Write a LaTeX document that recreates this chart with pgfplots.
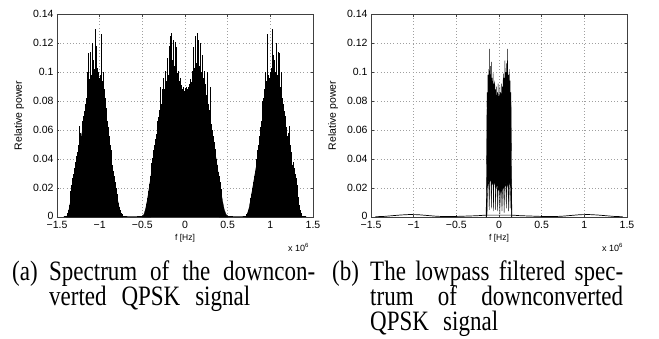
\documentclass[border=0pt]{standalone}
\usepackage{fontspec}
\setmainfont{Liberation Serif}
\setsansfont{Liberation Sans}
\usepackage{graphicx}
\usepackage{pgfplots}
\pgfplotsset{compat=1.18}

\pgfplotsset{
 specax/.style={
  scale only axis, width=256pt, height=203pt,
  xmin=-1.5, xmax=1.5, ymin=0, ymax=0.14,
  xtick={-1.5,-1,-0.5,0,0.5,1,1.5},
  xticklabels={−1.5,−1,−0.5,0,0.5,1,1.5},
  ytick={0,0.02,0.04,0.06,0.08,0.1,0.12,0.14},
  yticklabels={\raisebox{2pt}{0},0.02,0.04,0.06,0.08,0.1,0.12,0.14},
  grid=major,
  major grid style={draw=gray!75, line width=0.45pt, dash pattern=on 0.6pt off 2.6pt},
  tick label style={font=\sffamily\fontsize{10.5}{12}\selectfont, text=black},
  xticklabel style={yshift=-0.5pt},
  xlabel={f [Hz]}, ylabel={Relative power},
  every axis x label/.style={at={(axis description cs:0.5,-0.105)}, anchor=center, font=\sffamily\fontsize{8.5}{10}\selectfont},
  every axis y label/.style={at={(axis description cs:-0.148,0.5)}, rotate=90, anchor=center, font=\sffamily\fontsize{10.5}{12}\selectfont},
  axis line style={black!75, line width=0.5pt},
  tick style={black!75, line width=0.4pt},
  major tick length=2.5pt,
 }
}
\newcommand{\capfont}{\fontsize{23}{27}\selectfont}
\newcommand{\captxt}[1]{\scalebox{1}[1.22]{\capfont #1}}

\begin{document}
\begin{tikzpicture}
\useasboundingbox (0pt,0pt) rectangle (659pt,-338pt);

% ---------------- (a) ----------------
\begin{axis}[specax, at={(57pt,-217pt)}, anchor=south west]
% spikes, left lobe
\addplot[ycomb, black, line width=0.45pt, mark=none] coordinates {
(-1.38,0.003) (-1.37,0.005) (-1.36,0.008) (-1.35,0.014) (-1.34,0.018) (-1.33,0.022) (-1.32,0.027) (-1.31,0.03)
(-1.30,0.034) (-1.29,0.038) (-1.28,0.036) (-1.27,0.042) (-1.26,0.045) (-1.25,0.05) (-1.24,0.063) (-1.23,0.058)
(-1.22,0.056) (-1.21,0.062) (-1.20,0.066) (-1.19,0.07) (-1.18,0.073) (-1.17,0.078) (-1.16,0.082) (-1.15,0.1)
(-1.14,0.09) (-1.13,0.113) (-1.12,0.095) (-1.11,0.114) (-1.10,0.098) (-1.09,0.12) (-1.08,0.1) (-1.07,0.108)
(-1.06,0.102) (-1.05,0.13) (-1.04,0.118) (-1.03,0.103) (-1.02,0.1) (-1.01,0.096) (-1.00,0.092) (-0.99,0.098)
(-0.98,0.126) (-0.97,0.094) (-0.96,0.1) (-0.95,0.088) (-0.94,0.082) (-0.93,0.08) (-0.92,0.075) (-0.91,0.066)
(-0.90,0.062) (-0.89,0.056) (-0.88,0.05) (-0.87,0.046) (-0.86,0.04) (-0.85,0.036) (-0.84,0.032) (-0.83,0.028)
(-0.82,0.024) (-0.81,0.02) (-0.80,0.016) (-0.79,0.013) (-0.78,0.01) (-0.77,0.007) (-0.76,0.005) (-0.75,0.003)
(-0.74,0.002) (-0.73,0.001)
};
% spikes, centre lobe
\addplot[ycomb, black, line width=0.45pt, mark=none] coordinates {
(-0.47,0.003) (-0.46,0.006) (-0.45,0.009) (-0.44,0.013) (-0.43,0.018) (-0.42,0.023) (-0.41,0.028) (-0.40,0.032)
(-0.39,0.037) (-0.38,0.041) (-0.37,0.046) (-0.36,0.05) (-0.35,0.054) (-0.34,0.057) (-0.33,0.062) (-0.32,0.066)
(-0.31,0.069) (-0.30,0.074) (-0.29,0.09) (-0.28,0.078) (-0.27,0.088) (-0.26,0.082) (-0.25,0.096) (-0.24,0.088)
(-0.23,0.101) (-0.22,0.094) (-0.21,0.11) (-0.20,0.098) (-0.19,0.118) (-0.18,0.104) (-0.17,0.125) (-0.16,0.127)
(-0.15,0.108) (-0.14,0.122) (-0.13,0.104) (-0.12,0.121) (-0.11,0.102) (-0.10,0.117) (-0.09,0.099) (-0.08,0.101)
(-0.07,0.094) (-0.06,0.096) (-0.05,0.091) (-0.04,0.09) (-0.03,0.088) (-0.02,0.09) (-0.01,0.087) (0.00,0.089)
(0.01,0.086) (0.02,0.09) (0.03,0.088) (0.04,0.09) (0.05,0.092) (0.06,0.095) (0.07,0.093) (0.08,0.101)
(0.09,0.098) (0.10,0.117) (0.11,0.103) (0.12,0.125) (0.13,0.106) (0.14,0.127) (0.15,0.11) (0.16,0.122)
(0.17,0.104) (0.18,0.12) (0.19,0.1) (0.20,0.112) (0.21,0.096) (0.22,0.101) (0.23,0.09) (0.24,0.092)
(0.25,0.084) (0.26,0.1) (0.27,0.078) (0.28,0.074) (0.29,0.09) (0.30,0.07) (0.31,0.064) (0.32,0.06)
(0.33,0.056) (0.34,0.052) (0.35,0.047) (0.36,0.044) (0.37,0.04) (0.38,0.036) (0.39,0.031) (0.40,0.028)
(0.41,0.024) (0.42,0.019) (0.43,0.014) (0.44,0.01) (0.45,0.007) (0.46,0.004) (0.47,0.002)
};
% spikes, right lobe
\addplot[ycomb, black, line width=0.45pt, mark=none] coordinates {
(0.71,0.001) (0.72,0.002) (0.73,0.003) (0.74,0.005) (0.75,0.007) (0.76,0.01) (0.77,0.013) (0.78,0.016)
(0.79,0.02) (0.80,0.024) (0.81,0.028) (0.82,0.032) (0.83,0.036) (0.84,0.04) (0.85,0.046) (0.86,0.05)
(0.87,0.056) (0.88,0.062) (0.89,0.066) (0.90,0.075) (0.91,0.08) (0.92,0.082) (0.93,0.088) (0.94,0.1)
(0.95,0.094) (0.96,0.126) (0.97,0.098) (0.98,0.092) (0.99,0.096) (1.00,0.1) (1.01,0.103) (1.02,0.13)
(1.03,0.112) (1.04,0.102) (1.05,0.108) (1.06,0.1) (1.07,0.12) (1.08,0.098) (1.09,0.114) (1.10,0.095)
(1.11,0.113) (1.12,0.09) (1.13,0.1) (1.14,0.082) (1.15,0.078) (1.16,0.073) (1.17,0.07) (1.18,0.066)
(1.19,0.062) (1.20,0.056) (1.21,0.058) (1.22,0.063) (1.23,0.05) (1.24,0.045) (1.25,0.042) (1.26,0.036)
(1.27,0.038) (1.28,0.034) (1.29,0.03) (1.30,0.027) (1.31,0.022) (1.32,0.018) (1.33,0.014) (1.34,0.008)
(1.35,0.005) (1.36,0.003)
};
% dense cores
\addplot[fill=black, draw=black, line width=0.3pt, mark=none] coordinates {
(-1.39,0) (-1.37,0.002) (-1.35,0.008) (-1.33,0.016) (-1.31,0.024) (-1.29,0.031) (-1.27,0.037) (-1.25,0.043)
(-1.23,0.05) (-1.21,0.057) (-1.19,0.064) (-1.17,0.07) (-1.15,0.076) (-1.13,0.082) (-1.11,0.086) (-1.09,0.088)
(-1.07,0.09) (-1.05,0.092) (-1.03,0.09) (-1.01,0.088) (-0.99,0.084) (-0.97,0.078) (-0.95,0.071) (-0.93,0.063)
(-0.91,0.055) (-0.89,0.047) (-0.87,0.04) (-0.85,0.033) (-0.83,0.026) (-0.81,0.019) (-0.79,0.012) (-0.77,0.006)
(-0.75,0.002) (-0.73,0)
} \closedcycle;
\addplot[fill=black, draw=black, line width=0.3pt, mark=none] coordinates {
(-0.50,0) (-0.48,0.002) (-0.46,0.006) (-0.44,0.012) (-0.42,0.02) (-0.40,0.028) (-0.38,0.036) (-0.36,0.044)
(-0.34,0.051) (-0.32,0.058) (-0.30,0.064) (-0.28,0.07) (-0.26,0.076) (-0.24,0.082) (-0.22,0.087) (-0.20,0.091)
(-0.18,0.094) (-0.16,0.096) (-0.14,0.096) (-0.12,0.094) (-0.10,0.091) (-0.08,0.088) (-0.06,0.086) (-0.04,0.085)
(-0.02,0.084) (0.00,0.082) (0.02,0.084) (0.04,0.086) (0.06,0.088) (0.08,0.09) (0.10,0.093) (0.12,0.095)
(0.14,0.096) (0.16,0.096) (0.18,0.094) (0.20,0.09) (0.22,0.086) (0.24,0.081) (0.26,0.075) (0.28,0.069)
(0.30,0.063) (0.32,0.056) (0.34,0.049) (0.36,0.042) (0.38,0.034) (0.40,0.026) (0.42,0.018) (0.44,0.011)
(0.46,0.005) (0.48,0.002) (0.50,0)
(0.40,0) (0.36,0.002) (0.33,0.008) (0.30,0.014) (0.28,0.006) (0.26,0.018) (0.24,0.01) (0.22,0.02)
(0.20,0.012) (0.18,0.022) (0.16,0.01) (0.14,0.024) (0.12,0.014) (0.10,0.026) (0.08,0.012) (0.06,0.024)
(0.04,0.014) (0.02,0.022) (0.00,0.012) (-0.02,0.022) (-0.04,0.014) (-0.06,0.024) (-0.08,0.012) (-0.10,0.026)
(-0.12,0.014) (-0.14,0.024) (-0.16,0.01) (-0.18,0.022) (-0.20,0.012) (-0.22,0.02) (-0.24,0.01) (-0.26,0.018)
(-0.28,0.006) (-0.30,0.014) (-0.33,0.008) (-0.36,0.002) (-0.40,0)
} -- cycle;
\addplot[fill=black, draw=black, line width=0.3pt, mark=none] coordinates {
(0.71,0) (0.73,0.002) (0.75,0.006) (0.77,0.012) (0.79,0.019) (0.81,0.026) (0.83,0.033) (0.85,0.04)
(0.87,0.047) (0.89,0.055) (0.91,0.063) (0.93,0.071) (0.95,0.078) (0.97,0.084) (0.99,0.088) (1.01,0.09)
(1.03,0.092) (1.05,0.09) (1.07,0.088) (1.09,0.086) (1.11,0.082) (1.13,0.076) (1.15,0.07) (1.17,0.064)
(1.19,0.057) (1.21,0.05) (1.23,0.043) (1.25,0.037) (1.27,0.031) (1.29,0.024) (1.31,0.016) (1.33,0.008)
(1.35,0.002) (1.37,0)
} \closedcycle;
% floor
\addplot[black, line width=0.7pt, mark=none] coordinates {
(-1.42,0.0003) (-0.70,0.0003) (-0.60,0.0002) (-0.50,0.0004) (0.50,0.0004) (0.60,0.0002) (0.70,0.0003) (1.42,0.0003)
};
\end{axis}
\node[font=\sffamily\fontsize{9}{11}\selectfont, anchor=base west, inner sep=0pt] at (288pt,-251pt) {x 10\textsuperscript{6}};

% ---------------- (b) ----------------
\begin{axis}[specax, at={(371pt,-217pt)}, anchor=south west]
\addplot[black, line width=0.7pt, mark=none] coordinates {
(-1.45,0.0002) (-1.35,0.0004) (-1.25,0.0009) (-1.15,0.0014) (-1.05,0.0017) (-0.95,0.0016) (-0.85,0.0011)
(-0.75,0.0006) (-0.65,0.0003) (-0.55,0.0003) (-0.45,0.0005) (-0.35,0.0007) (-0.25,0.0009) (-0.18,0.0012) (-0.15,0.0013)
(0.15,0.0013) (0.18,0.0012) (0.25,0.0009) (0.35,0.0007) (0.45,0.0005) (0.55,0.0003) (0.65,0.0003) (0.75,0.0006)
(0.85,0.0011) (0.95,0.0016) (1.05,0.0017) (1.15,0.0014) (1.25,0.0009) (1.35,0.0004) (1.45,0.0002)
};
% spikes
\addplot[black, line width=0.45pt, mark=none] coordinates {
(-0.14,0.086) (-0.135,0.06) (-0.13,0.098) (-0.125,0.06) (-0.12,0.102) (-0.115,0.06) (-0.11,0.116) (-0.105,0.06)
(-0.10,0.104) (-0.095,0.06) (-0.09,0.107) (-0.085,0.06) (-0.08,0.096) (-0.075,0.06) (-0.07,0.099) (-0.065,0.06)
(-0.06,0.092) (-0.055,0.06) (-0.05,0.094) (-0.045,0.06) (-0.04,0.088) (-0.035,0.06) (-0.03,0.09) (-0.025,0.06)
(-0.02,0.086) (-0.015,0.06) (-0.01,0.092) (-0.005,0.06) (0.00,0.085) (0.005,0.06) (0.01,0.09) (0.015,0.06)
(0.02,0.086) (0.025,0.06) (0.03,0.092) (0.035,0.06) (0.04,0.09) (0.045,0.06) (0.05,0.099) (0.055,0.06)
(0.06,0.096) (0.065,0.06) (0.07,0.108) (0.075,0.06) (0.08,0.1) (0.085,0.06) (0.09,0.106) (0.095,0.06)
(0.10,0.116) (0.105,0.06) (0.11,0.098) (0.115,0.06) (0.12,0.102) (0.125,0.06) (0.13,0.094) (0.135,0.06)
(0.14,0.086)
};
% dense core with teeth at the bottom
\addplot[fill=black, draw=black, line width=0.3pt, mark=none] coordinates {
(-0.152,0) (-0.146,0.03) (-0.142,0.07) (-0.138,0.083) (-0.13,0.085) (-0.12,0.087) (-0.10,0.089) (-0.08,0.087)
(-0.06,0.084) (-0.04,0.081) (-0.02,0.08) (0.00,0.079) (0.02,0.08) (0.04,0.082) (0.06,0.085) (0.08,0.087)
(0.10,0.089) (0.12,0.087) (0.135,0.085) (0.142,0.075) (0.147,0.03) (0.152,0)
(0.146,0) (0.143,0.02) (0.136,0.024) (0.13,0.006) (0.125,0.026) (0.115,0.022) (0.11,0.004) (0.105,0.024)
(0.09,0.02) (0.085,0.006) (0.08,0.024) (0.065,0.02) (0.06,0.003) (0.055,0.022) (0.04,0.018) (0.035,0.004)
(0.03,0.02) (0.015,0.016) (0.01,0.002) (0.005,0.018) (-0.01,0.02) (-0.015,0.004) (-0.02,0.022) (-0.035,0.02)
(-0.04,0.005) (-0.045,0.024) (-0.06,0.022) (-0.065,0.004) (-0.07,0.024) (-0.085,0.022) (-0.09,0.006) (-0.095,0.026)
(-0.11,0.024) (-0.115,0.005) (-0.12,0.026) (-0.135,0.02) (-0.14,0.002) (-0.145,0)
} -- cycle;
\end{axis}
\node[font=\sffamily\fontsize{9}{11}\selectfont, anchor=base west, inner sep=0pt] at (602pt,-251pt) {x 10\textsuperscript{6}};

% ---------------- captions ----------------
\node[anchor=base west, inner sep=0pt] at (12pt,-280pt) {\captxt{(a)}};
\node[anchor=base west, inner sep=0pt] at (49pt,-280pt) {\captxt{\makebox[266pt][s]{Spectrum of the downcon-}}};
\node[anchor=base west, inner sep=0pt] at (49pt,-305.5pt) {\captxt{\makebox[201pt][s]{verted QPSK signal}}};

\node[anchor=base west, inner sep=0pt] at (332pt,-280pt) {\captxt{(b)}};
\node[anchor=base west, inner sep=0pt] at (370pt,-280pt) {\captxt{\makebox[253pt][s]{The lowpass filtered spec-}}};
\node[anchor=base west, inner sep=0pt] at (370pt,-305.5pt) {\captxt{\makebox[253pt][s]{trum of downconverted}}};
\node[anchor=base west, inner sep=0pt] at (370pt,-330.5pt) {\captxt{\makebox[128pt][s]{QPSK signal}}};
\end{tikzpicture}
\end{document}
